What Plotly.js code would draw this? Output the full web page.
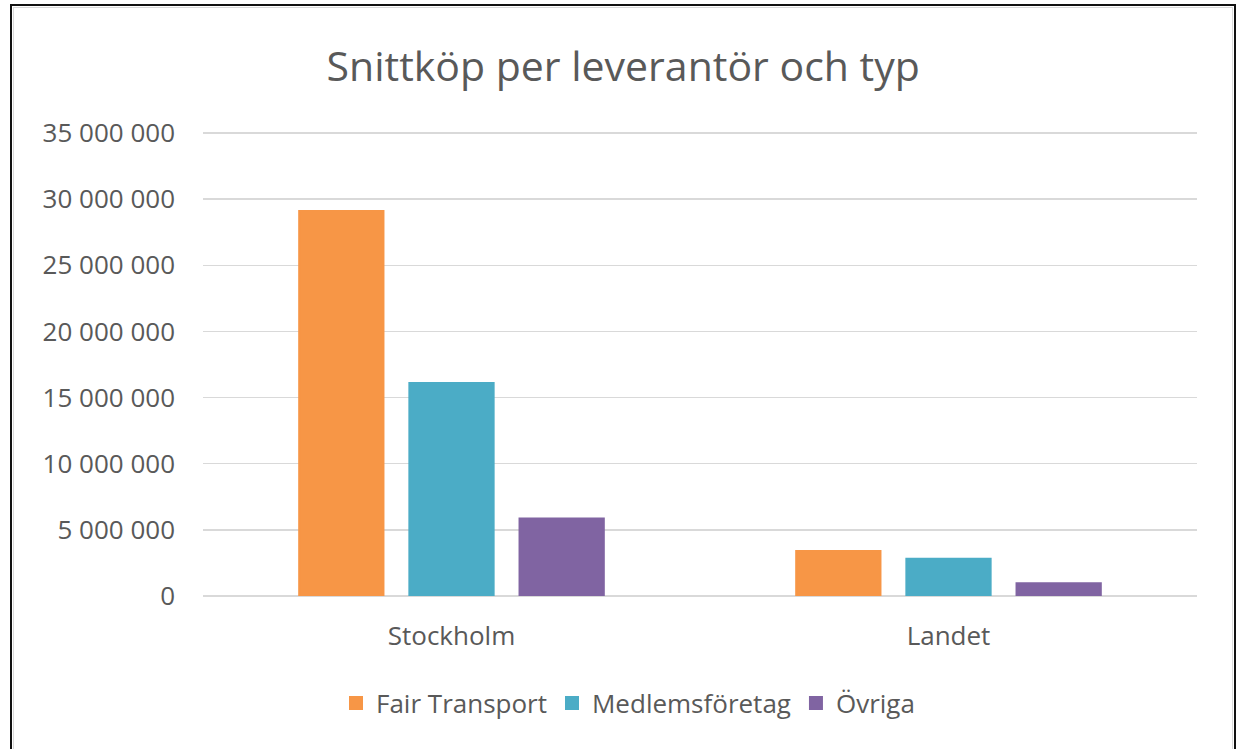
<!DOCTYPE html>
<html>
<head>
<meta charset="utf-8">
<script src="https://cdn.plot.ly/plotly-3.0.1.min.js"></script>
<style>
  html, body { margin: 0; padding: 0; background: #fff; overflow: hidden; }
  #wrap { position: relative; width: 1239px; height: 749px; overflow: hidden; }
  #chart { position: absolute; left: 0; top: 0; width: 1239px; height: 749px; }
  #frame { position: absolute; left: 10px; top: 4px; width: 1222px; height: 800px;
           border: 2px solid #111; pointer-events: none; }
  #inner { position: absolute; left: 1px; top: 1px; right: 1px; bottom: 1px;
           border: 1px solid #d9d9d9; }
</style>
</head>
<body>
<div id="wrap">
  <div id="chart"></div>
  <div id="frame"><div id="inner"></div></div>
</div>
<script>
const categories = ["Stockholm", "Landet"];
const seriesNames = ["Fair Transport", "Medlemsföretag", "Övriga"];
const fairTransport = [29100000, 3410000];
const medlemsforetag = [16100000, 2810000];
const ovriga = [5850000, 970000];
const colors = ["#F79646", "#4BACC6", "#8064A2"];
const titleText = "Snittköp per leverantör och typ";

const seriesValues = [fairTransport, medlemsforetag, ovriga];
const font = "'Open Sans', 'Noto Sans', sans-serif";

const traces = seriesValues.map((vals, i) => ({
  type: "bar",
  name: seriesNames[i],
  x: categories,
  y: vals,
  marker: { color: colors[i], line: { color: colors[i], width: 2 } },
  hoverinfo: "skip"
}));

const layout = {
  width: 1239,
  height: 749,
  paper_bgcolor: "#fff",
  plot_bgcolor: "#fff",
  separators: ", ",
  margin: { l: 203, r: 42, t: 129, b: 152.5, pad: 0 },
  title: {
    text: titleText,
    font: { family: font, size: 41, color: "#595959" },
    x: 0.503, xanchor: "center", xref: "container",
    y: 1 - 67 / 749, yanchor: "middle", yref: "container"
  },
  barmode: "group",
  bargap: 0.335,
  bargroupgap: 0.235,
  xaxis: {
    type: "category",
    showgrid: false,
    showline: false,
    zeroline: false,
    ticks: "",
    ticklabelstandoff: 22,
    tickfont: { family: font, size: 26, color: "#595959" }
  },
  yaxis: {
    range: [0, 35300000],
    dtick: 5000000,
    tick0: 0,
    tickformat: ",d",
    showgrid: true,
    gridcolor: "#d9d9d9",
    gridwidth: 1.5,
    zeroline: true,
    zerolinecolor: "#d9d9d9",
    zerolinewidth: 1.5,
    showline: false,
    ticks: "",
    ticklabelstandoff: 27,
    tickfont: { family: font, size: 26, color: "#595959" }
  },
  showlegend: true,
  legend: {
    orientation: "h",
    xref: "container", yref: "container",
    x: 628 / 1239, xanchor: "center",
    y: 1 - 703 / 749, yanchor: "middle",
    font: { family: font, size: 26, color: "#595959" },
    itemwidth: 30,
    bgcolor: "rgba(0,0,0,0)"
  }
};

Plotly.newPlot("chart", traces, layout, { staticPlot: true, displayModeBar: false });
</script>
</body>
</html>
